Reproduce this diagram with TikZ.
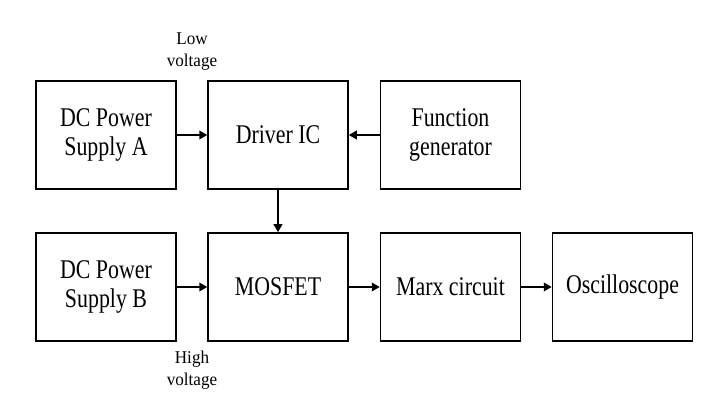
\documentclass[tikz,border=0pt]{standalone}
\usepackage{fontspec}
\setmainfont[FakeStretch=0.81]{Liberation Serif}
\newfontfamily\lblfont[FakeStretch=0.95]{Liberation Serif}
\usetikzlibrary{arrows.meta}
\begin{document}
\begin{tikzpicture}[x=1pt,y=-1pt,
  blk/.style={draw,line width=1.5pt,minimum width=140pt,minimum height=108pt,inner sep=0pt,align=center,
    font=\fontsize{27}{29}\selectfont},
  lbl/.style={align=center,font=\lblfont\fontsize{18}{22}\selectfont},
  conn/.style={line width=2.8pt,-{Triangle[length=8pt,width=8.5pt]}}]
\useasboundingbox (0,0) rectangle (723,419);
\node[blk] (A) at (106,135) {DC Power\\Supply A};
\node[blk] (D) at (278,135) {Driver IC};
\node[blk] (F) at (450.5,135) {Function\\generator};
\node[blk] (B) at (106,287) {DC Power\\Supply B};
\node[blk] (M) at (278,287) {MOSFET};
\node[blk] (X) at (450.5,287) {Marx circuit};
\node[blk] (O) at (622.5,287) {Oscilloscope};
\node[lbl] (lv) at (192,52) {Low\\voltage};
\node[lbl] (hv) at (192,370) {High\\voltage};
\draw[conn] (A) -- (D);
\draw[conn] (F) -- (D);
\draw[conn] (D) -- (M);
\draw[conn] (B) -- (M);
\draw[conn] (M) -- (X);
\draw[conn] (X) -- (O);
\end{tikzpicture}
\end{document}
